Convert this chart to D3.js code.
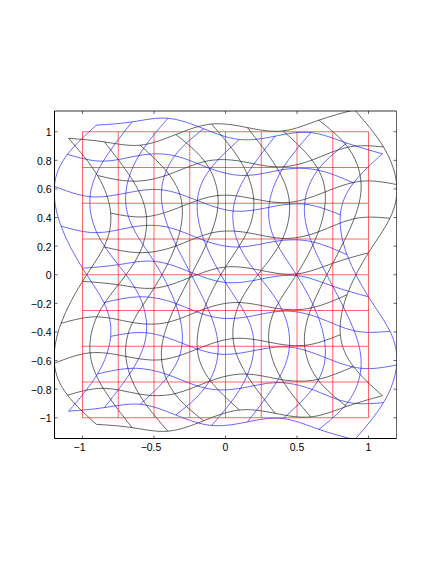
<!DOCTYPE html>
<html>
<head>
<meta charset="utf-8">
<script src="https://cdn.jsdelivr.net/npm/d3@7"></script>
<style>
  html, body { margin: 0; background: #fff; }
  svg { display: block; }
  text { font-family: "Liberation Sans", sans-serif; }
</style>
</head>
<body>
<svg id="chart"></svg>
<script>
const gridLines = [-1, -0.75, -0.5, -0.25, 0, 0.25, 0.5, 0.75, 1];
const xTicks = [-1, -0.5, 0, 0.5, 1];
const yTicks = [-1, -0.8, -0.6, -0.4, -0.2, 0, 0.2, 0.4, 0.6, 0.8, 1];

// warped grid nodes, one row per grid line, top to bottom
const blueX = [
  [-0.903, -0.653, -0.403, -0.153, 0.097, 0.347, 0.597, 0.847, 1.097],
  [-1.105, -0.855, -0.605, -0.355, -0.105, 0.145, 0.395, 0.645, 0.895],
  [-1.197, -0.947, -0.697, -0.447, -0.197, 0.053, 0.303, 0.553, 0.803],
  [-1.15, -0.9, -0.65, -0.4, -0.15, 0.1, 0.35, 0.6, 0.85],
  [-1, -0.75, -0.5, -0.25, 0, 0.25, 0.5, 0.75, 1],
  [-0.85, -0.6, -0.35, -0.1, 0.15, 0.4, 0.65, 0.9, 1.15],
  [-0.803, -0.553, -0.303, -0.053, 0.197, 0.447, 0.697, 0.947, 1.197],
  [-0.895, -0.645, -0.395, -0.145, 0.105, 0.355, 0.605, 0.855, 1.105],
  [-1.097, -0.847, -0.597, -0.347, -0.097, 0.153, 0.403, 0.653, 0.903]
];
const blueY = [
  [1.046, 1.069, 1.094, 1.021, 0.946, 0.969, 0.994, 0.921, 0.846],
  [0.842, 0.794, 0.834, 0.832, 0.742, 0.694, 0.734, 0.732, 0.642],
  [0.619, 0.546, 0.571, 0.594, 0.519, 0.446, 0.471, 0.494, 0.419],
  [0.34, 0.294, 0.334, 0.332, 0.24, 0.194, 0.234, 0.232, 0.14],
  [0.046, 0.07, 0.094, 0.02, -0.054, -0.03, -0.006, -0.08, -0.154],
  [-0.195, -0.154, -0.2, -0.292, -0.295, -0.254, -0.3, -0.392, -0.395],
  [-0.431, -0.406, -0.479, -0.554, -0.531, -0.506, -0.579, -0.654, -0.631],
  [-0.694, -0.654, -0.702, -0.792, -0.794, -0.754, -0.802, -0.892, -0.894],
  [-0.954, -0.929, -0.906, -0.981, -1.054, -1.029, -1.006, -1.081, -1.154]
];
const blackX = [
  [-1.097, -0.847, -0.597, -0.347, -0.097, 0.153, 0.403, 0.653, 0.903],
  [-0.895, -0.645, -0.395, -0.145, 0.105, 0.355, 0.605, 0.855, 1.105],
  [-0.803, -0.553, -0.303, -0.053, 0.197, 0.447, 0.697, 0.947, 1.197],
  [-0.85, -0.6, -0.35, -0.1, 0.15, 0.4, 0.65, 0.9, 1.15],
  [-1, -0.75, -0.5, -0.25, 0, 0.25, 0.5, 0.75, 1],
  [-1.15, -0.9, -0.65, -0.4, -0.15, 0.1, 0.35, 0.6, 0.85],
  [-1.197, -0.947, -0.697, -0.447, -0.197, 0.053, 0.303, 0.553, 0.803],
  [-1.105, -0.855, -0.605, -0.355, -0.105, 0.145, 0.395, 0.645, 0.895],
  [-0.903, -0.653, -0.403, -0.153, 0.097, 0.347, 0.597, 0.847, 1.097]
];
const blackY = [
  [0.954, 0.929, 0.906, 0.981, 1.054, 1.029, 1.006, 1.081, 1.154],
  [0.694, 0.654, 0.702, 0.792, 0.794, 0.754, 0.802, 0.892, 0.894],
  [0.431, 0.406, 0.479, 0.554, 0.531, 0.506, 0.579, 0.654, 0.631],
  [0.195, 0.154, 0.2, 0.292, 0.295, 0.254, 0.3, 0.392, 0.395],
  [-0.046, -0.07, -0.094, -0.02, 0.054, 0.03, 0.006, 0.08, 0.154],
  [-0.34, -0.294, -0.334, -0.332, -0.24, -0.194, -0.234, -0.232, -0.14],
  [-0.619, -0.546, -0.571, -0.594, -0.519, -0.446, -0.471, -0.494, -0.419],
  [-0.842, -0.794, -0.834, -0.832, -0.742, -0.694, -0.734, -0.732, -0.642],
  [-1.046, -1.069, -1.094, -1.021, -0.946, -0.969, -0.994, -0.921, -0.846]
];

const width = 436;
const height = 564;

// axes box edges, placed to land on the same pixels as the reference
const boxLeft = 54.5;
const boxRight = 396.5;
const boxTop = 111;
const boxBottom = 438.5;

const svg = d3.select("#chart").attr("width", width).attr("height", height);

const x = d3.scaleLinear().domain([-1.2, 1.2]).range([53.9, 397.1]);
const y = d3.scaleLinear().domain([-1.15, 1.15]).range([439.2, 110.3]);

svg.append("defs").append("clipPath").attr("id", "plot")
  .append("rect")
  .attr("x", boxLeft)
  .attr("y", boxTop)
  .attr("width", boxRight - boxLeft)
  .attr("height", boxBottom - boxTop);

const plot = svg.append("g").attr("clip-path", "url(#plot)");

const line = d3.line()
  .x((d) => x(d[0]))
  .y((d) => y(d[1]))
  .curve(d3.curveNatural);

// a warped grid: rows of the node tables, then columns
function drawWarped(nodesX, nodesY, color) {
  const rows = nodesX.map((r, i) => r.map((v, j) => [v, nodesY[i][j]]));
  const cols = gridLines.map((_, j) => rows.map((r) => r[j]));
  plot.append("g")
    .selectAll("path")
    .data(rows.concat(cols))
    .join("path")
    .attr("d", line)
    .attr("fill", "none")
    .attr("stroke", color)
    .attr("stroke-width", 0.6);
}

drawWarped(blackX, blackY, "#000");
drawWarped(blueX, blueY, "#00f");

// straight reference grid
const red = plot.append("g").attr("stroke", "#f00").attr("stroke-width", 0.6);
red.selectAll(".v").data(gridLines).join("line").attr("class", "v")
  .attr("x1", (d) => x(d)).attr("x2", (d) => x(d))
  .attr("y1", y(-1)).attr("y2", y(1));
red.selectAll(".h").data(gridLines).join("line").attr("class", "h")
  .attr("x1", x(-1)).attr("x2", x(1))
  .attr("y1", (d) => y(d)).attr("y2", (d) => y(d));

const fmt = (d) => (d < 0 ? "\u2212" : "") + Math.abs(d);

const axes = [
  [d3.axisBottom(x).tickValues(xTicks).tickFormat(fmt), 0, boxBottom],
  [d3.axisLeft(y).tickValues(yTicks).tickFormat(fmt), boxLeft, 0],
  [d3.axisTop(x).tickValues(xTicks).tickFormat(""), 0, boxTop],
  [d3.axisRight(y).tickValues(yTicks).tickFormat(""), boxRight, 0]
];

axes.forEach(([axis, tx, ty], i) => {
  const g = svg.append("g")
    .attr("transform", `translate(${tx}, ${ty})`)
    .call(axis.offset(0).tickSizeInner(-3).tickSizeOuter(0).tickPadding(i === 1 ? 3 : 5));
  g.select(".domain").remove();
  g.selectAll("line").attr("stroke", "#000").attr("stroke-width", 0.6);
  g.selectAll("text").attr("fill", "#000").attr("font-size", 10.5);
  // the reference sets negative x labels a little left of their tick
  if (i === 0) g.selectAll("text").attr("dx", (d) => (d < 0 ? -3 : 0));
  if (i === 1) g.selectAll("text").attr("dy", "0.42em");
});

// box: left and bottom sit on a pixel, top and right are softer
const box = [
  [boxLeft, boxTop, boxLeft, boxBottom, 1],
  [boxLeft, boxBottom, boxRight, boxBottom, 1],
  [boxLeft, boxTop, boxRight, boxTop, 0.8],
  [boxRight, boxTop, boxRight, boxBottom, 0.6]
];
svg.append("g").selectAll("line").data(box).join("line")
  .attr("x1", (d) => d[0]).attr("y1", (d) => d[1])
  .attr("x2", (d) => d[2]).attr("y2", (d) => d[3])
  .attr("stroke-width", (d) => d[4])
  .attr("stroke", "#000");
</script>
</body>
</html>
